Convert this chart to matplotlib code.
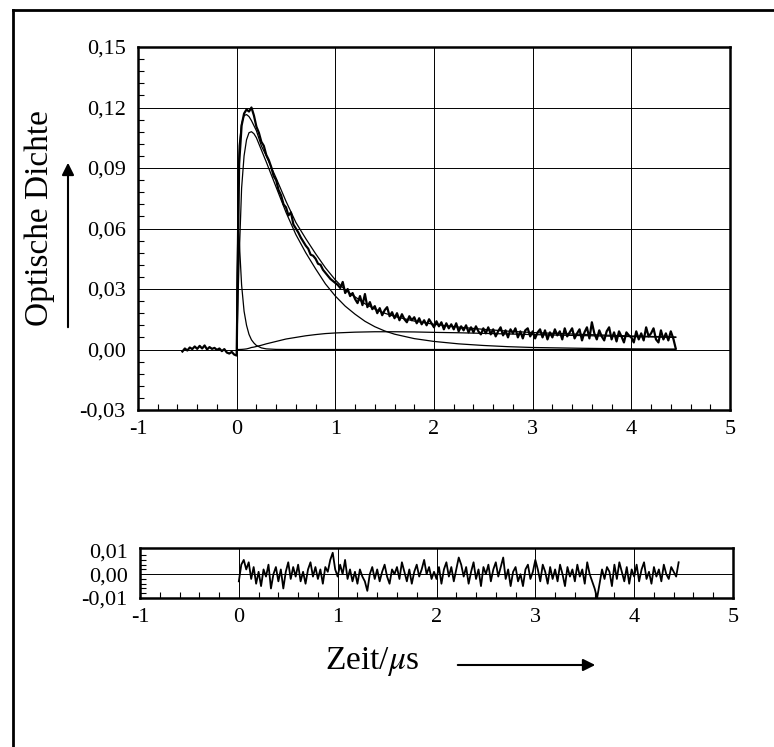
import numpy as np
import matplotlib
matplotlib.use("Agg")
from matplotlib import pyplot as plt
from matplotlib.lines import Line2D
from matplotlib.ticker import MultipleLocator, FuncFormatter

plt.rcParams['font.family'] = ['Liberation Serif', 'DejaVu Serif']
plt.rcParams['mathtext.fontset'] = 'stix'

# measured trace, optical density in 1e-3, sampled every 0.025 us from -0.55 us
od_start = -0.55
od_step = 0.025
od_data = [
    -1.0, 0.5, -0.5, 1.0, 0.2, 1.5, 0.3, 1.8, 0.5, 2.0, 0.0,
    1.2, 0.3, 0.8, -0.2, 0.5, -0.8, 0.2, -1.5, -2.0, -1.2, -2.5,
    -3.0, 92, 111, 117, 119, 118, 120, 116,
    110.5, 107.5, 103, 101, 96.5, 94, 90.5, 86,
    84, 79, 76.5, 72, 70.5, 66.5, 68, 62,
    60, 58, 55.5, 53.5, 51.5, 50, 47, 46.5,
    45, 42.5, 42, 39.5, 38, 36.5, 35, 34,
    33, 32, 30.5, 33.5, 28, 30, 26.5, 28,
    25, 23, 26.5, 22, 27.5, 21, 23.5, 20,
    21.5, 18, 20.5, 17, 19.5, 21, 16.5, 18.5,
    15.5, 18, 14.5, 17.5, 15, 13.5, 16.5, 14.5,
    16, 13, 15.5, 12.5, 14.5, 12, 15, 13,
    11, 14, 11.5, 13.5, 10, 13, 10.5, 12.5,
    10, 13, 9, 11.5, 9.5, 12, 8.5, 11,
    8.5, 11.5, 9, 7.5, 10.5, 8, 11, 7.5,
    10, 6.5, 9, 11, 7, 9.5, 6, 10,
    8, 10.5, 6, 9, 5.5, 9.5, 10.5, 6.5,
    9, 5.5, 8.5, 10, 6, 9.5, 5, 8.5,
    6, 10, 7, 9, 5, 10.5, 6.5, 8.5,
    10.5, 5.5, 8, 10, 4.5, 8.5, 11, 5.5,
    13.5, 8, 5, 9.5, 6.5, 4.5, 9, 11,
    5, 8.5, 4, 9, 6.5, 3.5, 8.5, 7,
    6, 3.5, 9, 5, 8, 4.5, 11, 6.5,
    8, 10.5, 5, 3.5, 9.5, 5, 8, 4.5,
    9, 5.5, 0.5,
]

# fitted curves (1e-3)
t_fit = [0.0, 0.005, 0.015, 0.025, 0.05, 0.075, 0.1, 0.125, 0.15, 0.175,
         0.2, 0.25, 0.3, 0.4, 0.5, 0.6, 0.7, 0.8, 0.9, 1.0,
         1.1, 1.2, 1.3, 1.4, 1.5, 1.6, 1.8, 2.0, 2.25, 2.5,
         2.75, 3.0, 3.5, 4.0, 4.45]
fit_total = [0, 38, 85, 101, 112, 116, 116.5, 115.5, 113.5, 111,
             108.5, 101, 96, 85, 73.5, 63, 55, 47.5, 40.5, 34.5,
             29.5, 26.1, 22.7, 20.1, 18.0, 16.4, 14.1, 12.5, 11.1, 10.0,
             9.1, 8.4, 7.5, 6.7, 6.2]
fit_fast = [0, 30, 60, 55, 32, 19, 12, 7.5, 4.8, 3.2,
            2.0, 0.8, 0.3, 0.05, 0, 0, 0, 0, 0, 0,
            0, 0, 0, 0, 0, 0, 0, 0, 0, 0,
            0, 0, 0, 0, 0]
fit_main = [0, 8, 28, 45, 80, 96, 104, 107.5, 108, 107,
            105, 99, 93, 80.5, 68, 57, 48, 40, 32.5, 26.5,
            21.5, 17.5, 14, 11.3, 9.2, 7.6, 5.4, 4.0, 2.8, 2.0,
            1.4, 1.0, 0.6, 0.3, 0.2]
fit_slow = [0, 0, 0, 0, 0.05, 0.15, 0.3, 0.6, 1.0, 1.2,
            1.5, 2.1, 2.8, 4.0, 5.2, 6.0, 6.8, 7.4, 7.9, 8.2,
            8.4, 8.6, 8.7, 8.8, 8.8, 8.8, 8.7, 8.5, 8.3, 8.0,
            7.7, 7.4, 6.9, 6.4, 6.0]

# residuals (1e-3), every 0.025 us from 0
res_start = 0.0
res_step = 0.025
residual = [
    -3, 4, 6, 2, 5, -2, 3, -4,
    1, -5, 2, -1, 4, -6, 0, 3,
    -3, 2, -6, 1, 5, -2, 3, -1,
    4, -3, 1, -4, 2, 5, -1, 3,
    -2, 2, -4, 3, 1, 6, 9, 2,
    -1, 4, 0, 6, -2, 2, -3, 1,
    -4, 2, -1, -3, -7, 0, 3, -2,
    2, -3, 1, 4, -1, -4, 2, 0,
    3, -2, 5, 1, -3, 2, -4, 1,
    4, -1, 2, 6, 0, 3, -2, 1,
    -2, 3, -4, 2, 5, -1, 3, -3,
    2, 7, 4, -1, 3, -4, 1, 5,
    -2, 2, -5, 3, 0, 4, -3, 2,
    5, -1, 3, 7, -2, 2, -5, 1,
    3, -3, 0, -5, 2, 4, -2, 1,
    6, 2, -3, 4, 1, -4, 3, -2,
    2, -3, 4, 0, -5, 3, -1, 2,
    -3, 4, -1, 2, -4, 5, 0, -3,
    -6, -10, -4, 2, -2, 3, 1, -5,
    4, -2, 5, 1, -3, 3, -4, 2,
    -1, 4, -3, 2, 5, -2, 1, -4,
    3, -1, 2, -3, 4, 0, -2, 3,
    1, -1, 5,
]

t_data = od_start + od_step * np.arange(len(od_data))
t_res = res_start + res_step * np.arange(len(residual))
scale = 1e-3

W, H = 774, 747
fig = plt.figure(figsize=(W / 100, H / 100), dpi=100)

def fbox(l, t, r, b):
    return [l / W, 1 - b / H, (r - l) / W, (b - t) / H]

comma = FuncFormatter(lambda v, p: ('%.2f' % v).replace('.', ',').replace('-0,00', '0,00'))
ints = FuncFormatter(lambda v, p: '%d' % round(v))

def style(ax):
    for s in ax.spines.values():
        s.set_linewidth(1.8)
    ax.grid(True, which='major', color='black', lw=0.7)
    ax.set_axisbelow(True)
    ax.tick_params(which='both', direction='in', labelsize=16, color='black')
    ax.tick_params(which='major', length=0)
    ax.tick_params(which='minor', length=4, width=0.8)
    ax.tick_params(axis='y', pad=9)
    ax.tick_params(axis='x', pad=7)
    ax.xaxis.set_major_locator(MultipleLocator(1))
    ax.xaxis.set_minor_locator(MultipleLocator(0.2))
    ax.xaxis.set_major_formatter(ints)
    ax.yaxis.set_major_formatter(comma)
    ax.set_xlim(-1, 5)

# main panel
ax = fig.add_axes(fbox(138, 47, 730, 410))
style(ax)
ax.set_ylim(-0.03, 0.15)
ax.yaxis.set_major_locator(MultipleLocator(0.03))
ax.yaxis.set_minor_locator(MultipleLocator(0.006))

ax.plot(t_fit, np.array(fit_fast) * scale, color='black', lw=0.9)
ax.plot(t_fit, np.array(fit_main) * scale, color='black', lw=0.9)
ax.plot(t_fit, np.array(fit_slow) * scale, color='black', lw=0.9)
ax.plot(t_fit, np.array(fit_total) * scale, color='black', lw=0.9)
ax.plot(t_data, np.array(od_data) * scale, color='black', lw=1.6)

# residual panel
ax2 = fig.add_axes(fbox(140, 548, 733, 598))
style(ax2)
ax2.set_ylim(-0.01, 0.011)
ax2.set_yticks([-0.01, 0.0, 0.01])
ax2.yaxis.set_minor_locator(MultipleLocator(0.002))
ax2.grid(False, axis='y')
ax2.axhline(0, color='black', lw=0.7)
ax2.plot(t_res, np.array(residual) * scale, color='black', lw=1.3)

# axis labels with arrows
fig.text(40 / W, 1 - 218 / H, 'Optische Dichte', rotation=90, fontsize=24,
         ha='center', va='center')
fig.text(372 / W, 1 - 662 / H, r'Zeit/$\mu$s', fontsize=24, ha='center', va='center')
fig.add_artist(plt.Annotation('', xy=(68 / W, 1 - 160 / H), xytext=(68 / W, 1 - 330 / H),
                              xycoords='figure fraction', textcoords='figure fraction',
                              arrowprops=dict(arrowstyle='-|>', lw=1.5, color='black',
                                              mutation_scale=18)))
fig.add_artist(plt.Annotation('', xy=(598 / W, 1 - 665 / H), xytext=(455 / W, 1 - 665 / H),
                              xycoords='figure fraction', textcoords='figure fraction',
                              arrowprops=dict(arrowstyle='-|>', lw=1.5, color='black',
                                              mutation_scale=18)))

# page frame
fig.add_artist(Line2D([13 / W, 1.0], [1 - 10 / H, 1 - 10 / H], color='black', lw=2))
fig.add_artist(Line2D([13 / W, 13 / W], [0.0, 1 - 10 / H], color='black', lw=2))

fig.savefig('out.png', dpi=100)
